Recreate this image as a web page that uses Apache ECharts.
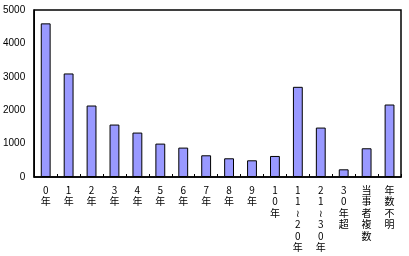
<!DOCTYPE html>
<html><head><meta charset="utf-8">
<script src="https://cdn.jsdelivr.net/npm/echarts@6/dist/echarts.min.js"></script>
<style>html,body{margin:0;padding:0;background:#fff}#c{width:409px;height:256px}</style>
</head><body><div id="c"></div>
<script>
const categories = ["0年","1年","2年","3年","4年","5年","6年","7年","8年","9年","10年","11≀20年","21≀30年","30年超","当事者複数","年数不明"];
const values = [4600,3100,2140,1570,1330,1000,880,650,560,500,630,2700,1480,230,860,2170];
const yTicks = [0,1000,2000,3000,4000,5000];

const chart = echarts.init(document.getElementById('c'), null, {renderer:'canvas'});
chart.setOption({
  animation:false,
  backgroundColor:'#fff',
  grid:{left:34,right:8,top:10,bottom:79,show:true,borderColor:'#000',borderWidth:1.5,backgroundColor:'transparent'},
  xAxis:{type:'category',data:categories,
    axisLine:{lineStyle:{color:'#000',width:1.5}},
    axisTick:{show:true,inside:true,length:3,lineStyle:{color:'#000'}},
    axisLabel:{interval:0,margin:7,fontSize:10,lineHeight:11.5,color:'#000',
      fontFamily:'"Noto Sans CJK JP", sans-serif',
      formatter:v=>Array.from(v).join('\n'),verticalAlign:'top'}},
  yAxis:{type:'value',min:yTicks[0],max:yTicks[yTicks.length-1],interval:1000,
    splitLine:{show:false},
    axisLine:{show:true,lineStyle:{color:'#000',width:1.5}},
    axisTick:{show:false},
    axisLabel:{color:'#000',fontSize:10,margin:9,formatter:v=>String(v),fontFamily:'"Liberation Sans", Arial, sans-serif'}},
  series:[{type:'bar',data:values,barWidth:'43%',
    itemStyle:{color:'#9999ff',borderColor:'#000',borderWidth:1}}]
});
</script></body></html>
